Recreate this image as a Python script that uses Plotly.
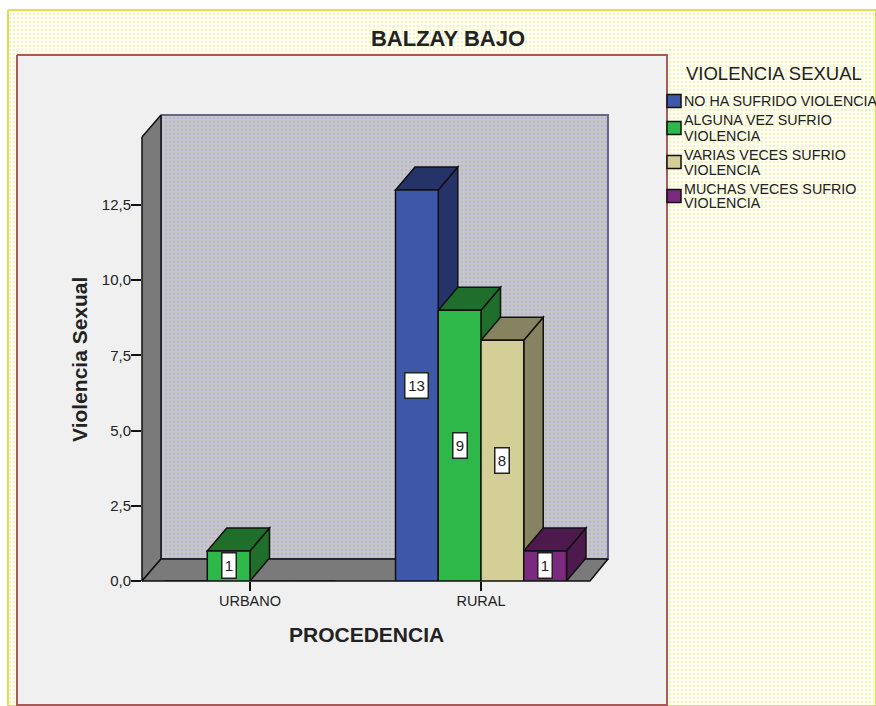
import plotly.graph_objects as go

categories = ["URBANO", "RURAL"]
series_names = ["NO HA SUFRIDO VIOLENCIA", "ALGUNA VEZ SUFRIO<br>VIOLENCIA", "VARIAS VECES SUFRIO<br>VIOLENCIA", "MUCHAS VECES SUFRIO<br>VIOLENCIA"]
no_ha_sufrido = [0, 13]
alguna_vez = [1, 9]
varias_veces = [0, 8]
muchas_veces = [0, 1]
y_ticks = [0, 2.5, 5, 7.5, 10, 12.5]

series_values = [no_ha_sufrido, alguna_vez, varias_veces, muchas_veces]
front_colors = ["#3f57a8", "#2eb84a", "#d3cf97", "#7b2a7f"]
dark_colors = ["#253368", "#1f6e2c", "#878360", "#4c1a4c"]

WIDTH = 876
HEIGHT = 706
LAYOUT_HEIGHT = 714
FONT = "Liberation Sans"
TEXT = "#222222"
GROUP = 0.74
BAR = GROUP / 4
DEPTH_X = 19.5 / 231
DEPTH_Y = 23 / 30.08


def page_polygon(fig, xs, ys, color, line=None, line_width=1.5, pattern=None):
    fig.add_trace(go.Scatter(x=xs, y=ys, mode="lines", fill="toself", fillcolor=color, fillpattern=pattern,
                             line=dict(color=line or color, width=line_width if line else 0),
                             hoverinfo="skip", showlegend=False, xaxis="x", yaxis="y"))


def depth_shape(x0, x1, y0, y1, color, top):
    if top:
        path = f"M{x0},{y1} L{x1},{y1} L{x1 + DEPTH_X},{y1 + DEPTH_Y} L{x0 + DEPTH_X},{y1 + DEPTH_Y} Z"
    else:
        path = f"M{x1},{y0} L{x1},{y1} L{x1 + DEPTH_X},{y1 + DEPTH_Y} L{x1 + DEPTH_X},{y0 + DEPTH_Y} Z"
    return dict(type="path", path=path, xref="x2", yref="y2", fillcolor=color, layer="below",
                line=dict(color="#111111", width=1.5))


fig = go.Figure()

# page background, panel and the walls sit on a full page axis in pixels
page_polygon(fig, [8, 876, 876, 8, 8], [10, 10, 706, 706, 10], "#ffffff", "#dfdf55", 2,
             dict(shape=".", size=4, solidity=0.4, fgcolor="#e9e97a", bgcolor="#ffffff"))
page_polygon(fig, [17, 667, 667, 17, 17], [55, 55, 705, 705, 55], "#f0f0f0", "#a85a5a", 2)
page_polygon(fig, [161, 608, 608, 161, 161], [115, 115, 559, 559, 115], "#bdbdcc", "#666688", 2,
             dict(shape=".", size=4, solidity=0.4, fgcolor="#a8a8d0", bgcolor="#c8c8c8"))
page_polygon(fig, [142, 161, 161, 142, 142], [137, 115, 559, 581, 137], "#7a7a7a", "#111111", 1.5)
page_polygon(fig, [142, 161, 608, 590, 142], [581, 559, 559, 581, 581], "#7a7a7a", "#111111", 1.5)

shapes = []
for i, values in enumerate(series_values):
    fig.add_trace(go.Bar(x=[0, 1], y=values, name=series_names[i], marker=dict(color=front_colors[i], line=dict(color="#111111", width=1.5)),
                         xaxis="x2", yaxis="y2", cliponaxis=False, showlegend=False))
    for cat, value in enumerate(values):
        if value == 0:
            continue
        x0 = cat - GROUP / 2 + i * BAR
        shapes.append(depth_shape(x0, x0 + BAR, 0, value, dark_colors[i], False))
        shapes.append(depth_shape(x0, x0 + BAR, 0, value, dark_colors[i], True))

annotations = []
for i, values in enumerate(series_values):
    for cat, value in enumerate(values):
        if value == 0:
            continue
        annotations.append(dict(x=cat - GROUP / 2 + (i + 0.5) * BAR, y=value / 2, xref="x2", yref="y2", text=str(value), showarrow=False,
                                font=dict(family=FONT, size=15, color=TEXT), bgcolor="#ffffff", bordercolor="#222222", borderwidth=1.5,
                                width=20 if value > 9 else 11, height=22))


def page_text(text, x, y, size, bold=False, anchor="left", angle=0):
    label = f"<b>{text}</b>" if bold else text
    return dict(x=x / WIDTH, y=1 - y / HEIGHT, xref="paper", yref="paper", text=label, showarrow=False, xanchor=anchor, yanchor="middle",
                align="left", textangle=angle, font=dict(family=FONT, size=size, color=TEXT))


annotations.append(page_text("PROCEDENCIA", 366, 634, 21, True, "center"))
annotations.append(page_text("Violencia Sexual", 79, 360, 21, True, "center", -90))
annotations.append(page_text("VIOLENCIA SEXUAL", 774, 73, 18.5, False, "center"))

# legend drawn by hand: swatches touch the labels, wrapped lines sit 15px apart
legend_rows = [101, 128, 162, 196]
for name, color, row in zip(series_names, front_colors, legend_rows):
    shapes.append(dict(type="rect", xref="x", yref="y", x0=667, x1=681, y0=row - 6.5, y1=row + 6.5, fillcolor=color, line=dict(color="#111111", width=1.5)))
    lines = name.split("<br>")
    for n, line in enumerate(lines):
        annotations.append(page_text(line, 682, row + (n - (len(lines) - 1) / 2) * 15, 14.3))

fig.update_layout(
    width=WIDTH,
    height=LAYOUT_HEIGHT,
    autosize=False,
    margin=dict(l=0, r=0, t=0, b=0),
    paper_bgcolor="#ffffff",
    plot_bgcolor="rgba(0,0,0,0)",
    separators=",.",
    barmode="group",
    bargap=1 - GROUP,
    bargroupgap=0,
    showlegend=False,
    title=dict(text="<b>BALZAY BAJO</b>", x=448 / WIDTH, xanchor="center", y=1 - 38 / HEIGHT, yanchor="middle",
               font=dict(family=FONT, size=22, color=TEXT)),
    xaxis=dict(domain=[0, 1], range=[0, WIDTH], visible=False, fixedrange=True),
    yaxis=dict(domain=[0, 1], range=[HEIGHT, 0], visible=False, fixedrange=True),
    xaxis2=dict(domain=[142 / WIDTH, 608 / WIDTH], anchor="y2", range=[-108 / 231, 358 / 231], tickvals=[0, 1], ticktext=categories,
                ticks="outside", ticklen=9, tickwidth=1.5, tickcolor="#111111", showgrid=False, zeroline=False, showline=False,
                ticklabelstandoff=-2, tickfont=dict(family=FONT, size=14.5, color=TEXT)),
    yaxis2=dict(domain=[1 - 581 / HEIGHT, 1 - 115 / HEIGHT], anchor="x2", range=[0, 466 / 30.08], tickvals=y_ticks, tickformat=".1f",
                ticks="outside", ticklen=10, tickwidth=1.5, tickcolor="#111111", showgrid=False, zeroline=False, showline=False,
                ticklabelstandoff=-3, tickfont=dict(family=FONT, size=15, color=TEXT)),
    shapes=shapes,
    annotations=annotations,
)

fig.write_html("out.html", config=dict(displayModeBar=False, responsive=False),
               post_script="document.body.style.margin='0';document.body.style.overflow='hidden';")
